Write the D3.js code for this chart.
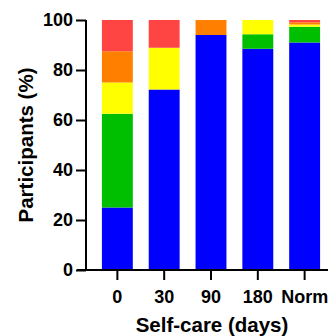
<!DOCTYPE html>
<html>
<head>
<meta charset="utf-8">
<script src="https://cdn.jsdelivr.net/npm/d3@7"></script>
<style>
  body { margin: 0; background: #fff; }
  text { font-family: "Liberation Sans", Arial, sans-serif; font-weight: bold; }
</style>
</head>
<body>
<div id="chart"></div>
<script>
const categories = ["0", "30", "90", "180", "Norm"];
const levels = ["blue", "green", "yellow", "orange", "red"];
const blue = [25, 72.2, 94, 88.5, 91];
const green = [37.5, 0, 0, 5.8, 6.3];
const yellow = [12.5, 16.7, 0, 5.7, 0.9];
const orange = [12.5, 0, 6, 0, 0.9];
const red = [12.5, 11.1, 0, 0, 0.9];
const yTicks = [0, 20, 40, 60, 80, 100];
const colors = ["#0000ff", "#00bf00", "#ffff00", "#ff8000", "#ff4444"];

const width = 328;
const height = 336;

const rows = categories.map((c, i) => ({
  cat: c, blue: blue[i], green: green[i], yellow: yellow[i], orange: orange[i], red: red[i]
}));
const stacked = d3.stack().keys(levels)(rows);

const svg = d3.select("#chart")
  .append("svg")
  .attr("width", width)
  .attr("height", height);

const x = d3.scaleBand()
  .domain(categories)
  .range([86, 336])
  .padding(0.34);

const y = d3.scaleLinear()
  .domain([0, 100])
  .range([270, 20]);

const color = d3.scaleOrdinal().domain(levels).range(colors);

svg.append("g")
  .selectAll("g")
  .data(stacked)
  .join("g")
  .attr("fill", d => color(d.key))
  .selectAll("rect")
  .data(d => d)
  .join("rect")
  .attr("x", d => x(d.data.cat))
  .attr("width", x.bandwidth())
  .attr("y", d => y(d[1]))
  .attr("height", d => y(d[0]) - y(d[1]));

const xAxis = svg.append("g")
  .attr("transform", "translate(0,270)")
  .call(d3.axisBottom(x).tickSize(10).tickSizeOuter(0).tickPadding(10));

const yAxis = svg.append("g")
  .attr("transform", "translate(86,0)")
  .call(d3.axisLeft(y).tickValues(yTicks).tickSize(10).tickSizeOuter(0).tickPadding(3));

[xAxis, yAxis].forEach(g => {
  g.selectAll("path, line").attr("stroke", "#000").attr("stroke-width", 2);
  g.selectAll("text").attr("fill", "#000").style("font-size", "18px");
});
yAxis.select(".domain").attr("d", "M0,270V20");
xAxis.select(".domain").attr("d", "M77,0H336");

svg.append("text")
  .attr("x", 212)
  .attr("y", 332)
  .attr("text-anchor", "middle")
  .style("font-size", "20.5px")
  .text("Self-care (days)");

svg.append("text")
  .attr("transform", "translate(33,145) rotate(-90)")
  .attr("text-anchor", "middle")
  .style("font-size", "20.5px")
  .text("Participants (%)");
</script>
</body>
</html>
